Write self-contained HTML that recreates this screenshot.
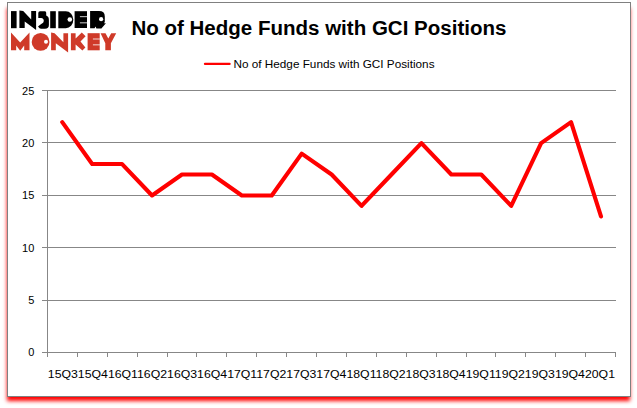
<!DOCTYPE html>
<html><head><meta charset="utf-8">
<style>
html,body{margin:0;padding:0;background:#fff;}
body{width:637px;height:408px;position:relative;overflow:hidden;font-family:"Liberation Sans",sans-serif;}
.frame{position:absolute;left:7px;top:2px;width:622px;height:393px;border:1px solid #808080;background:#fff;box-shadow:-0.7px 4.9px 4px -0.7px #ff0000;}
svg{position:absolute;left:0;top:0;}
</style></head>
<body>
<div class="frame"></div>
<svg width="637" height="408" viewBox="0 0 637 408">
  <!-- logo INSIDER -->
  <g fill="#000">
    <rect x="11" y="11.1" width="5.6" height="17.1"/>
    <polygon points="19.4,10.4 23.2,11.1 31.2,19.4 31.2,10.9 36.1,10.9 36.1,29.9 24.7,21.4 24.7,27.9 19.4,27.9"/>
    <path d="M38.3 13 Q38.3 11.3 40 11.3 L45 11.3 Q46.2 11.3 46.2 12.8 L46.2 15.6 Q48.9 16.6 48.9 20 L48.9 25 Q48.9 28.8 45 28.8 L41 28.8 Q39.5 28.8 38 26.5 L41.2 24 Q43.8 23.2 43.8 21 Q43.8 18.3 41.2 18 L38.3 18 Z"/>
    <rect x="50.2" y="11.2" width="5.6" height="17"/>
    <path d="M58.3 11.2 L65.8 11.2 A7.5 8.5 0 0 1 65.8 28.2 L58.3 28.2 Z"/>
    <rect x="74.6" y="11.2" width="12.4" height="16.8"/>
    <path d="M90.1 11.1 L99 11.1 Q104.8 11.1 104.8 16.5 L104.8 21.5 Q104.8 22.8 103.9 23.2 L105.9 23.3 L101.4 28.5 L96.4 28.5 L95.5 26.6 L94.6 28.2 L90.1 28.2 Z"/>
  </g>
  <g fill="#fff">
    <circle cx="69.8" cy="19.5" r="2.3"/>
    <circle cx="101.1" cy="19.2" r="2.1"/>
  </g>
  <g stroke="#fff" stroke-width="1.2" opacity="0.68">
    <line x1="79.9" y1="16.6" x2="87.2" y2="16.6"/>
    <line x1="79.9" y1="22.8" x2="87.2" y2="22.8"/>
  </g>
  <!-- logo MONKEY -->
  <g fill="#cf3a29">
    <polygon points="11,32.4 20.2,42.6 29.5,32.4 29.5,50.3 24.2,50.3 24.2,45.6 20.2,50.8 16.2,45.6 16.2,50.3 11,50.3"/>
    <circle cx="40.6" cy="41.9" r="8.9"/>
    <polygon points="51.1,32.4 54.6,33.2 63.4,42.2 63.4,33.2 68.1,33.2 68.1,52.4 55.8,43.2 55.8,50.3 51.1,50.3"/>
    <polygon points="70.9,33.2 75.6,33.2 75.6,38.5 81.8,32.6 85.6,36.2 80.5,41.5 85.4,47.6 82.4,50.6 75.6,44.5 75.6,50.3 70.9,50.3"/>
    <rect x="87.6" y="33.2" width="12.1" height="17.1"/>
    <polygon points="100.6,33.2 105.5,33.2 108.3,38.5 111.2,33.2 116.2,33.2 110.9,43.2 110.9,50.3 105.3,50.3 105.3,43.2"/>
  </g>
  <circle cx="46" cy="41.7" r="2" fill="#fff"/>
  <g stroke="#fff" stroke-width="1.3" opacity="0.62">
    <line x1="92.9" y1="39" x2="99.9" y2="39"/>
    <line x1="92.9" y1="44.8" x2="99.9" y2="44.8"/>
  </g>

  <!-- title -->
  <text x="131.4" y="34.8" font-family="Liberation Sans" font-weight="bold" font-size="20.3" textLength="375" lengthAdjust="spacingAndGlyphs" fill="#000">No of Hedge Funds with GCI Positions</text>

  <!-- legend -->
  <line x1="205" y1="63.9" x2="229.6" y2="63.9" stroke="#ff0000" stroke-width="2.3" stroke-linecap="round"/>
  <text x="233.5" y="67.7" font-family="Liberation Sans" font-size="11" textLength="201" lengthAdjust="spacingAndGlyphs" fill="#000">No of Hedge Funds with GCI Positions</text>

  <!-- gridlines -->
  <g stroke="#878787" stroke-width="1" shape-rendering="crispEdges">
    <line x1="42" y1="90.5" x2="616" y2="90.5"/>
    <line x1="42" y1="142.5" x2="616" y2="142.5"/>
    <line x1="42" y1="195.5" x2="616" y2="195.5"/>
    <line x1="42" y1="247.5" x2="616" y2="247.5"/>
    <line x1="42" y1="300.5" x2="616" y2="300.5"/>
    <line x1="42" y1="352.5" x2="616" y2="352.5"/>
    <line x1="47.5" y1="90" x2="47.5" y2="357"/>
  </g>
  <g stroke="#878787" stroke-width="1" shape-rendering="crispEdges" id="ticks"><line x1="77.5" y1="352" x2="77.5" y2="357"/><line x1="107.5" y1="352" x2="107.5" y2="357"/><line x1="137.5" y1="352" x2="137.5" y2="357"/><line x1="167.5" y1="352" x2="167.5" y2="357"/><line x1="196.5" y1="352" x2="196.5" y2="357"/><line x1="226.5" y1="352" x2="226.5" y2="357"/><line x1="256.5" y1="352" x2="256.5" y2="357"/><line x1="286.5" y1="352" x2="286.5" y2="357"/><line x1="316.5" y1="352" x2="316.5" y2="357"/><line x1="346.5" y1="352" x2="346.5" y2="357"/><line x1="376.5" y1="352" x2="376.5" y2="357"/><line x1="406.5" y1="352" x2="406.5" y2="357"/><line x1="436.5" y1="352" x2="436.5" y2="357"/><line x1="466.5" y1="352" x2="466.5" y2="357"/><line x1="495.5" y1="352" x2="495.5" y2="357"/><line x1="525.5" y1="352" x2="525.5" y2="357"/><line x1="555.5" y1="352" x2="555.5" y2="357"/><line x1="585.5" y1="352" x2="585.5" y2="357"/><line x1="615.5" y1="352" x2="615.5" y2="357"/></g>

  <!-- y labels -->
  <g font-family="Liberation Sans" font-size="11" fill="#000" text-anchor="end">
    <text x="34.3" y="95">25</text>
    <text x="34.3" y="147.2">20</text>
    <text x="34.3" y="199.4">15</text>
    <text x="34.3" y="251.6">10</text>
    <text x="34.3" y="303.9">5</text>
    <text x="34.3" y="356.1">0</text>
  </g>
  <!-- x labels -->
  <text x="47.8" y="377.7" font-family="Liberation Sans" font-size="11" textLength="567.2" lengthAdjust="spacingAndGlyphs" fill="#000">15Q315Q416Q116Q216Q316Q417Q117Q217Q317Q418Q118Q218Q318Q419Q119Q219Q319Q420Q1</text>

  <!-- series -->
  <polyline fill="none" stroke="#ff0000" stroke-width="4.1" stroke-linejoin="round" stroke-linecap="round"
    points="62.25,122.15 92.18,164.05 122.11,164.05 152.04,195.48 181.97,174.53 211.90,174.53 241.83,195.48 271.76,195.48 301.69,153.58 331.62,174.53 361.55,205.95 391.48,174.53 421.41,143.10 451.34,174.53 481.27,174.53 511.20,205.95 541.13,143.10 571.06,122.15 600.99,216.43"/>
</svg>
</body></html>
